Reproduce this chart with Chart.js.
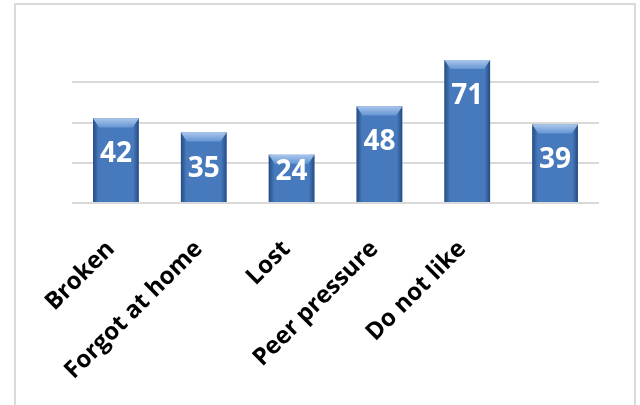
<!DOCTYPE html>
<html>
<head>
<meta charset="utf-8">
<script src="https://cdn.jsdelivr.net/npm/chart.js@4.4.0/dist/chart.umd.min.js"></script>
<style>
  body { margin:0; background:#fff; }
  #wrap { position:relative; width:640px; height:405px; overflow:hidden; }
  #frame { position:absolute; left:14px; top:3px; width:622px; height:440px; border:2px solid #dadada; box-sizing:border-box; }
  canvas { position:absolute; left:0; top:0; }
</style>
</head>
<body>
<div id="wrap">
  <div id="frame"></div>
  <canvas id="chart" width="640" height="405"></canvas>
</div>
<script>
const categories = ["Broken", "Forgot at home", "Lost", "Peer pressure", "Do not like", ""];
const counts = [42, 35, 24, 48, 71, 39];
const yMax = 80;
const yStep = 20;

// bevel look on each bar + the white value inside
const bevelPlugin = {
  id: "bevel",
  afterDatasetsDraw(chart) {
    const ctx = chart.ctx;
    const meta = chart.getDatasetMeta(0);
    meta.data.forEach((bar, i) => {
      const w = bar.width;
      const left = bar.x - w / 2;
      const right = bar.x + w / 2;
      const top = bar.y;
      const bottom = bar.base;
      ctx.save();

      // darker side edges
      let g = ctx.createLinearGradient(left, 0, right, 0);
      g.addColorStop(0, "rgba(25,60,110,0.75)");
      g.addColorStop(0.12, "rgba(25,60,110,0)");
      g.addColorStop(0.88, "rgba(25,60,110,0)");
      g.addColorStop(1, "rgba(25,60,110,0.75)");
      ctx.fillStyle = g;
      ctx.fillRect(left, top, w, bottom - top);

      // light top bevel
      const bh = 9;
      g = ctx.createLinearGradient(0, top, 0, top + bh);
      g.addColorStop(0, "#a9c6ec");
      g.addColorStop(1, "#6495d3");
      ctx.fillStyle = g;
      ctx.beginPath();
      ctx.moveTo(left, top);
      ctx.lineTo(right, top);
      ctx.lineTo(right - 6, top + bh);
      ctx.lineTo(left + 6, top + bh);
      ctx.closePath();
      ctx.fill();

      // value label
      const ly = Math.min(top + 36, bottom - 30);
      ctx.fillStyle = "#ffffff";
      ctx.font = "bold 28px 'Open Sans'";
      ctx.textAlign = "center";
      ctx.textBaseline = "middle";
      ctx.fillText(String(counts[i]), bar.x, ly);
      ctx.restore();
    });
  }
};

new Chart(document.getElementById("chart"), {
  type: "bar",
  data: {
    labels: categories,
    datasets: [{
      data: counts,
      backgroundColor: "#4779bd",
      borderWidth: 0,
      categoryPercentage: 1,
      barPercentage: 0.52
    }]
  },
  options: {
    responsive: false,
    animation: false,
    layout: { padding: { left: 72, right: 41, top: 42, bottom: 0 } },
    plugins: { legend: { display: false }, tooltip: { enabled: false } },
    scales: {
      x: {
        grid: { display: false },
        border: { display: false },
        ticks: {
          autoSkip: false,
          minRotation: 45,
          maxRotation: 45,
          padding: 24,
          labelOffset: -5,
          color: "#000",
          font: { family: "'Open Sans'", weight: "bold", size: 24 }
        },
        afterFit(scale) { scale.height = 202; }
      },
      y: {
        min: 0,
        max: yMax,
        ticks: { display: false, stepSize: yStep },
        border: { display: false },
        grid: {
          drawTicks: false,
          lineWidth: 2,
          color: (c) => c.tick && c.tick.value === yMax ? "rgba(0,0,0,0)" : "#d9d9d9"
        }
      }
    }
  },
  plugins: [bevelPlugin]
});
</script>
</body>
</html>
